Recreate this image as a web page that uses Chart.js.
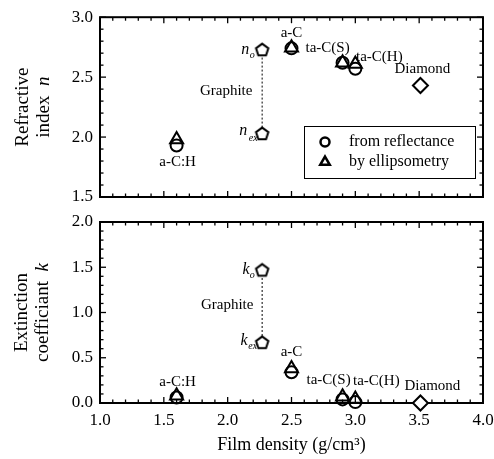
<!DOCTYPE html>
<html><head><meta charset="utf-8">
<script src="https://cdn.jsdelivr.net/npm/chart.js@4/dist/chart.umd.min.js"></script>
<style>
html,body{margin:0;padding:0;background:#fff;}
#wrap{position:relative;width:494px;height:459px;background:#fff;}
canvas{position:absolute;left:0;top:0;}
</style></head><body>
<div id="wrap"><canvas id="c1" width="494" height="459"></canvas><canvas id="c2" width="494" height="459"></canvas></div>
<script>
// ---------------- data ----------------
const filmMaterials = ['a-C:H', 'a-C', 'ta-C(S)', 'ta-C(H)'];
const filmDensity = [1.6, 2.5, 2.9, 3.0];
const nReflectance = [1.93, 2.74, 2.62, 2.57];
const nEllipsometry = [1.98, 2.745, 2.62, 2.61];
const kReflectance = [0.06, 0.34, 0.04, 0.01];
const kEllipsometry = [0.08, 0.38, 0.07, 0.045];
const graphiteDensity = [2.27, 2.27];
const nGraphite = [2.73, 2.03];   // n_o, n_ex
const kGraphite = [1.47, 0.67];   // k_o, k_ex
const diamondDensity = [3.51];
const nDiamond = [2.43];
const kDiamond = [0.0];
const xTicks = [1.0, 1.5, 2.0, 2.5, 3.0, 3.5, 4.0];
const nTicks = [1.5, 2.0, 2.5, 3.0];
const kTicks = [0.0, 0.5, 1.0, 1.5, 2.0];
const legendLabels = ['from reflectance', 'by ellipsometry'];

// ---------------- helpers ----------------
const SERIF = '"Liberation Serif", "Times New Roman", serif';
Chart.defaults.font.family = SERIF;
Chart.defaults.color = '#000';

function pentagonImg(r, lw) {
  const s = Math.ceil(2 * r + 2 * lw + 2);
  const c = document.createElement('canvas');
  c.width = s; c.height = s;
  const g = c.getContext('2d');
  g.lineWidth = lw; g.strokeStyle = '#000'; g.fillStyle = '#fff'; g.lineJoin = 'miter';
  g.beginPath();
  for (let i = 0; i < 5; i++) {
    const a = -Math.PI / 2 + i * 2 * Math.PI / 5;
    const x = s / 2 + r * Math.cos(a), y = s / 2 + 0.6 + r * Math.sin(a);
    if (i) g.lineTo(x, y); else g.moveTo(x, y);
  }
  g.closePath(); g.fill(); g.stroke();
  return c;
}
const pent = pentagonImg(6.5, 2);

function pts(xs, ys) { return xs.map((x, i) => ({x: x, y: ys[i]})); }
function scatterSet(xs, ys, style, radius, extra) {
  return Object.assign({
    type: 'scatter', data: pts(xs, ys), pointStyle: style, pointRadius: radius,
    pointBorderWidth: 2, pointBorderColor: '#000', pointBackgroundColor: 'rgba(0,0,0,0)',
    showLine: false, clip: false
  }, extra || {});
}
function dottedSet(xs, ys) {
  return {type: 'line', data: pts(xs, ys), borderColor: '#000', borderWidth: 1,
    borderDash: [2, 2], pointRadius: 0, showLine: true, fill: false, clip: false};
}

// frame and inward ticks on all four sides
const frameTicks = {
  id: 'frameTicks',
  beforeDatasetsDraw(chart, args, opts) {
    const {ctx, chartArea: a, scales} = chart;
    const xs = scales.x, ys = scales.y;
    ctx.save();
    ctx.strokeStyle = '#000';
    ctx.lineWidth = 1.3;
    const line = (x1, y1, x2, y2) => { ctx.beginPath(); ctx.moveTo(x1, y1); ctx.lineTo(x2, y2); ctx.stroke(); };
    const nx = Math.round((xs.max - xs.min) / 0.1);
    for (let i = 0; i <= nx; i++) {
      const v = xs.min + i * 0.1;
      const px = xs.getPixelForValue(v);
      const len = (i % 5 === 0) ? 6 : 3.5;
      line(px, a.bottom, px, a.bottom - len);
      line(px, a.top, px, a.top + len);
    }
    const ny = Math.round((ys.max - ys.min) / 0.1);
    for (let i = 0; i <= ny; i++) {
      const v = ys.min + i * 0.1;
      const py = ys.getPixelForValue(v);
      const len = (i % 5 === 0) ? 6 : 3.5;
      line(a.left, py, a.left + len, py);
      line(a.right, py, a.right - len, py);
    }
    ctx.lineWidth = 2;
    ctx.strokeRect(a.left, a.top, a.right - a.left, a.bottom - a.top);
    ctx.restore();
  }
};

// text annotations + rotated y title + legend
const annotations = {
  id: 'annotations',
  afterDatasetsDraw(chart, args, opts) {
    const {ctx, scales} = chart;
    const xs = scales.x, ys = scales.y;
    ctx.save();
    ctx.fillStyle = '#000';
    ctx.textBaseline = 'middle';
    (opts.labels || []).forEach(l => {
      const px = xs.getPixelForValue(l.x) + l.dx;
      const py = ys.getPixelForValue(l.y) + l.dy;
      ctx.font = (l.italic ? 'italic ' : '') + (l.size || 15) + 'px ' + SERIF;
      ctx.textAlign = l.align || 'center';
      ctx.fillText(l.text, px, py);
    });
    // y title
    if (opts.title) {
      const t = opts.title;
      const cy = (chart.chartArea.top + chart.chartArea.bottom) / 2 + (t.dy || 0);
      ctx.save();
      ctx.translate(0, cy);
      ctx.rotate(-Math.PI / 2);
      ctx.textBaseline = 'middle';
      ctx.textAlign = 'center';
      ctx.font = t.size + 'px ' + SERIF;
      ctx.fillText(t.line1, 0, t.x1);
      const normal = t.size + 'px ' + SERIF, ital = 'italic ' + t.size + 'px ' + SERIF;
      ctx.font = normal; const w1 = ctx.measureText(t.line2).width;
      ctx.font = ital; const w2 = ctx.measureText(t.sym).width;
      const total = w1 + w2;
      ctx.textAlign = 'left';
      ctx.font = normal; ctx.fillText(t.line2, -total / 2, t.x2);
      ctx.font = ital; ctx.fillText(t.sym, -total / 2 + w1, t.x2);
      ctx.restore();
    }
    // legend
    if (opts.legend) {
      const L = opts.legend;
      ctx.lineWidth = 1;
      ctx.strokeStyle = '#000';
      ctx.strokeRect(L.x + 0.5, L.y + 0.5, L.w, L.h);
      ctx.font = '16px ' + SERIF;
      ctx.textAlign = 'left';
      L.items.forEach((it, i) => {
        const y = L.y + L.firstY + i * L.gap;
        ctx.lineWidth = 2.5;
        ctx.fillStyle = 'rgba(0,0,0,0)';
        Chart.helpers.drawPoint(ctx, {pointStyle: it.style, radius: it.r, rotation: 0, borderWidth: 2.5}, L.x + L.markerX, y);
        ctx.fillStyle = '#000';
        ctx.fillText(it.text, L.x + L.textX, y);
      });
    }
    ctx.restore();
  }
};

function yScale(min, max, ticksArr) {
  return {
    type: 'linear', min: min, max: max,
    afterBuildTicks(s) { s.ticks = ticksArr.map(v => ({value: v})); },
    afterFit(s) { s.width = 100; },
    ticks: {callback: v => Number(v).toFixed(1), font: {size: 17, family: SERIF}, color: '#000', padding: 7},
    grid: {display: false, drawTicks: false},
    border: {display: false}
  };
}

// ---------------- top chart: refractive index ----------------
new Chart(document.getElementById('c1'), {
  type: 'scatter',
  data: {datasets: [
    scatterSet(filmDensity, nEllipsometry, 'triangle', 7.5),
    scatterSet(filmDensity, nReflectance, 'circle', 6),
    scatterSet(graphiteDensity, nGraphite, pent, 7),
    scatterSet(diamondDensity, nDiamond, 'rectRot', 7.5, {pointBackgroundColor: '#fff'}),
    dottedSet(graphiteDensity, nGraphite)
  ]},
  options: {
    responsive: false, animation: false, events: [], devicePixelRatio: 1,
    layout: {padding: {left: 0, right: 11, top: 16, bottom: 262}},
    scales: {
      x: {type: 'linear', min: 1, max: 4, display: false},
      y: yScale(1.5, 3.0, nTicks)
    },
    plugins: {
      legend: {display: false}, tooltip: {enabled: false},
      annotations: {
        labels: [
          {text: filmMaterials[0], x: filmDensity[0], y: nReflectance[0], dx: 1, dy: 17},
          {text: filmMaterials[1], x: filmDensity[1], y: nEllipsometry[1], dx: 0, dy: -15},
          {text: filmMaterials[2], x: filmDensity[2], y: nEllipsometry[2], dx: -15, dy: -15},
          {text: filmMaterials[3], x: filmDensity[3], y: nEllipsometry[3], dx: 24, dy: -7},
          {text: 'Diamond', x: diamondDensity[0], y: nDiamond[0], dx: 2, dy: -16},
          {text: 'Graphite', x: graphiteDensity[0], y: (nGraphite[0] + nGraphite[1]) / 2, dx: -36, dy: 0},
          {text: 'n', x: graphiteDensity[0], y: nGraphite[0], dx: -17, dy: 0, italic: true, size: 16},
          {text: 'o', x: graphiteDensity[0], y: nGraphite[0], dx: -10, dy: 6, italic: true, size: 10},
          {text: 'n', x: graphiteDensity[1], y: nGraphite[1], dx: -19, dy: -3, italic: true, size: 16},
          {text: 'ex', x: graphiteDensity[1], y: nGraphite[1], dx: -9, dy: 5, italic: true, size: 10}
        ],
        title: {line1: 'Refractive', line2: 'index  ', sym: 'n', size: 19, x1: 23, x2: 44, dy: 0},
        legend: {x: 304, y: 126, w: 171, h: 52, markerX: 21, textX: 45, firstY: 16, gap: 20,
          items: [{style: 'circle', r: 4.5, text: legendLabels[0]}, {style: 'triangle', r: 5.5, text: legendLabels[1]}]}
      }
    }
  },
  plugins: [frameTicks, annotations]
});

// ---------------- bottom chart: extinction coefficient ----------------
new Chart(document.getElementById('c2'), {
  type: 'scatter',
  data: {datasets: [
    scatterSet(filmDensity, kEllipsometry, 'triangle', 7.5),
    scatterSet(filmDensity, kReflectance, 'circle', 6),
    scatterSet(graphiteDensity, kGraphite, pent, 7),
    scatterSet(diamondDensity, kDiamond, 'rectRot', 7.5, {pointBackgroundColor: '#fff'}),
    dottedSet(graphiteDensity, kGraphite)
  ]},
  options: {
    responsive: false, animation: false, events: [], devicePixelRatio: 1,
    layout: {padding: {left: 0, right: 11, top: 222, bottom: 0}},
    scales: {
      x: {
        type: 'linear', min: 1, max: 4,
        afterBuildTicks(s) { s.ticks = xTicks.map(v => ({value: v})); },
        afterFit(s) { s.height = 56; s.paddingLeft = 0; s.paddingRight = 0; },
        ticks: {callback: v => Number(v).toFixed(1), font: {size: 17, family: SERIF}, color: '#000', padding: 7, maxRotation: 0, autoSkip: false},
        grid: {display: false, drawTicks: false},
        border: {display: false},
        title: {display: true, text: 'Film density (g/cm³)', font: {size: 18, family: SERIF}, color: '#000', padding: {top: 0, bottom: 3}}
      },
      y: yScale(0, 2.0, kTicks)
    },
    plugins: {
      legend: {display: false}, tooltip: {enabled: false},
      annotations: {
        labels: [
          {text: filmMaterials[0], x: filmDensity[0], y: kEllipsometry[0], dx: 1, dy: -14},
          {text: filmMaterials[1], x: filmDensity[1], y: kEllipsometry[1], dx: 0, dy: -17},
          {text: filmMaterials[2], x: filmDensity[2], y: kEllipsometry[2], dx: -14, dy: -17},
          {text: filmMaterials[3], x: filmDensity[3], y: kEllipsometry[3], dx: 21, dy: -18},
          {text: 'Diamond', x: diamondDensity[0], y: kDiamond[0], dx: 12, dy: -17},
          {text: 'Graphite', x: graphiteDensity[0], y: (kGraphite[0] + kGraphite[1]) / 2, dx: -35, dy: -1},
          {text: 'k', x: graphiteDensity[0], y: kGraphite[0], dx: -16, dy: 0, italic: true, size: 16},
          {text: 'o', x: graphiteDensity[0], y: kGraphite[0], dx: -10, dy: 5, italic: true, size: 10},
          {text: 'k', x: graphiteDensity[1], y: kGraphite[1], dx: -18, dy: -1.5, italic: true, size: 16},
          {text: 'ex', x: graphiteDensity[1], y: kGraphite[1], dx: -9.5, dy: 4, italic: true, size: 10}
        ],
        title: {line1: 'Extinction', line2: 'coefficiant  ', sym: 'k', size: 19, x1: 22, x2: 43, dy: 0}
      }
    }
  },
  plugins: [frameTicks, annotations]
});
</script>
</body></html>
